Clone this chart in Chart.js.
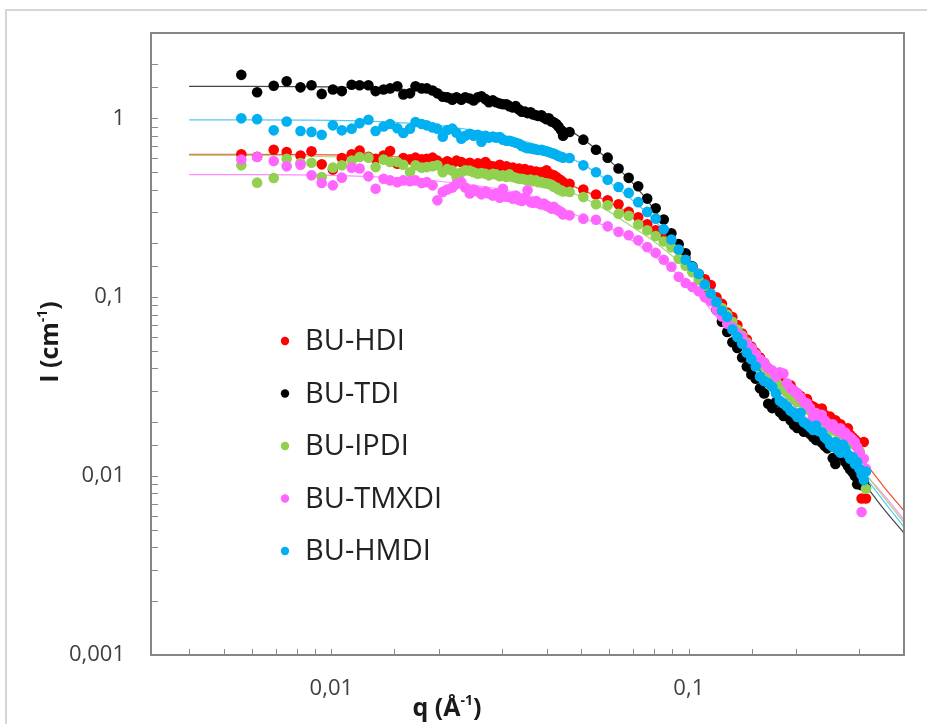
<!DOCTYPE html>
<html><head><meta charset="utf-8">
<script src="https://cdn.jsdelivr.net/npm/chart.js@4/dist/chart.umd.min.js"></script>
<style>
html,body{margin:0;padding:0;background:#fff;overflow:hidden}
#wrap{position:relative;width:927px;height:724px}
#frame{position:absolute;left:5px;top:9px;width:940px;height:740px;border:2px solid #d6d6d6;box-sizing:border-box}
canvas{position:absolute;left:0;top:0}
</style></head><body>
<div id="wrap"><div id="frame"></div><canvas id="c" width="927" height="724"></canvas></div>
<script>
// ---------- DATA ----------
const seriesNames = ["BU-HDI", "BU-TDI", "BU-IPDI", "BU-TMXDI", "BU-HMDI"];
const xTitle = ["q (Å", "-1", ")"];
const yTitle = ["I (cm", "-1", ")"];

const qLow = [0.0056,0.0062,0.0069,0.0075,0.0082,0.0088,0.0094,0.0101,0.0107,0.0114,
 0.0120,0.0127,0.0133,0.0140,0.0146,0.0153,0.0159,0.0166,0.0172,0.0179,
 0.0185,0.0192,0.0198,0.0205,0.0211,0.0218,0.0224,0.0231,0.0237,0.0244,
 0.0250,0.0257,0.0263,0.0270,0.0276,0.0283,0.0289,0.0296,0.0302,0.0309,
 0.0315,0.0322,0.0328,0.0335,0.0341,0.0348,0.0354,0.0361,0.0367,0.0374,
 0.0380,0.0387,0.0393,0.0400,0.0406,0.0413,0.0419,0.0426,0.0432,0.0439,
 0.0445];
const qHigh = [0.0464,0.0507,0.0550,0.0593,0.0636,0.0679,0.0722,0.0765,0.0808,0.0851,
 0.0894,0.0937,0.0980,0.1023,0.1066,0.1109,0.1152,0.1195,0.1238,0.1281,
 0.1324,0.1367,0.1410,0.1453,0.1496,0.1539,0.1582,0.1625,0.1668,0.1711,
 0.1754,0.1797,0.1840,0.1883,0.1926,0.1969,0.2012,0.2055,0.2098,0.2141,
 0.2184,0.2227,0.2270,0.2313,0.2356,0.2399,0.2442,0.2485,0.2528,0.2571,
 0.2614,0.2657,0.2700,0.2743,0.2786,0.2829,0.2872,0.2915,0.2958,0.3001,
 0.3044,0.3087,0.3130];

const hdiLow = [0.63,0.61,0.668,0.648,0.62,0.654,0.553,0.517,0.60,0.63,
 0.66,0.61,0.595,0.62,0.657,0.558,0.60,0.59,0.603,0.59,
 0.595,0.603,0.58,0.558,0.575,0.56,0.58,0.57,0.555,0.565,
 0.546,0.56,0.55,0.57,0.545,0.54,0.534,0.55,0.53,0.54,
 0.524,0.53,0.52,0.524,0.51,0.52,0.505,0.51,0.50,0.505,
 0.495,0.50,0.49,0.512,0.49,0.485,0.48,0.47,0.46,0.45,
 0.44];
const hdiHigh = [0.43,0.40,0.375,0.348,0.331,0.30,0.28,0.256,0.237,0.219,
 0.20,0.185,0.165,0.148,0.135,0.126,0.117,0.10,0.092,0.082,
 0.0775,0.070,0.0626,0.058,0.053,0.049,0.046,0.043,0.040,0.037,
 0.035,0.034,0.033,0.031,0.0322,0.030,0.029,0.028,0.0265,0.027,
 0.025,0.0245,0.0239,0.023,0.0239,0.022,0.021,0.0215,0.020,0.0205,
 0.019,0.0195,0.0185,0.018,0.0185,0.017,0.0165,0.016,0.0155,0.0135,
 0.0075,0.0155,0.0075];

const tdiLow = [1.75,1.40,1.52,1.61,1.49,1.53,1.37,1.45,1.42,1.54,
 1.53,1.53,1.42,1.45,1.47,1.51,1.36,1.38,1.51,1.47,
 1.47,1.43,1.38,1.32,1.31,1.27,1.31,1.27,1.31,1.29,
 1.26,1.31,1.33,1.28,1.23,1.26,1.23,1.21,1.20,1.20,
 1.17,1.15,1.17,1.12,1.09,1.09,1.07,1.08,1.05,1.04,
 1.03,1.04,1.01,0.99,1.00,0.96,0.95,0.93,0.90,0.86,
 0.80];
const tdiHigh = [0.839,0.760,0.668,0.603,0.524,0.465,0.417,0.356,0.314,0.272,
 0.228,0.198,0.176,0.149,0.134,0.114,0.099,0.085,0.073,0.064,
 0.056,0.052,0.046,0.041,0.037,0.035,0.031,0.029,0.0254,0.0240,
 0.0260,0.0228,0.0217,0.0228,0.0205,0.0193,0.0186,0.0195,0.0177,0.0181,
 0.0172,0.0165,0.0159,0.0167,0.0154,0.0148,0.0143,0.0150,0.0126,0.0117,
 0.0131,0.0136,0.0128,0.0120,0.0114,0.0109,0.0105,0.0100,0.0090,0.0098,
 0.0089,0.0093,0.0086];

const ipdiLow = [0.546,0.437,0.464,0.595,0.563,0.565,0.47,0.53,0.546,0.58,
 0.608,0.603,0.534,0.588,0.57,0.57,0.55,0.50,0.546,0.53,
 0.534,0.54,0.546,0.50,0.52,0.51,0.47,0.50,0.512,0.51,
 0.50,0.49,0.495,0.49,0.48,0.49,0.486,0.475,0.48,0.47,
 0.486,0.47,0.465,0.46,0.46,0.455,0.45,0.455,0.445,0.45,
 0.44,0.44,0.435,0.432,0.43,0.425,0.415,0.41,0.40,0.396,
 0.39];
const ipdiHigh = [0.388,0.363,0.331,0.327,0.293,0.285,0.255,0.237,0.22,0.205,
 0.19,0.164,0.15,0.138,0.125,0.115,0.10,0.094,0.087,0.080,
 0.073,0.066,0.061,0.056,0.052,0.048,0.044,0.041,0.038,0.036,
 0.034,0.032,0.0305,0.0295,0.028,0.0275,0.026,0.0265,0.025,0.024,
 0.0232,0.0225,0.022,0.021,0.0205,0.020,0.0195,0.0185,0.018,0.0185,
 0.0175,0.017,0.0165,0.0172,0.016,0.0155,0.0158,0.015,0.0145,0.0138,
 0.0125,0.0105,0.0085];

const tmxdiLow = [0.588,0.608,0.577,0.539,0.551,0.48,0.435,0.422,0.466,0.53,
 0.524,0.474,0.404,0.46,0.45,0.44,0.45,0.445,0.45,0.435,
 0.44,0.422,0.348,0.388,0.40,0.41,0.43,0.44,0.41,0.38,
 0.40,0.39,0.376,0.39,0.38,0.37,0.38,0.36,0.404,0.365,
 0.363,0.355,0.37,0.35,0.345,0.36,0.396,0.34,0.337,0.345,
 0.335,0.33,0.334,0.325,0.32,0.313,0.32,0.31,0.305,0.30,
 0.29];
const tmxdiHigh = [0.287,0.275,0.271,0.249,0.232,0.222,0.208,0.191,0.177,0.162,
 0.148,0.13,0.12,0.114,0.108,0.10,0.095,0.085,0.078,0.071,
 0.068,0.063,0.060,0.055,0.052,0.048,0.045,0.043,0.040,0.039,
 0.036,0.038,0.0375,0.033,0.031,0.030,0.029,0.0275,0.026,0.0255,
 0.024,0.0215,0.0225,0.021,0.022,0.0205,0.0198,0.019,0.0195,0.0184,
 0.018,0.0185,0.0172,0.0175,0.0168,0.0165,0.016,0.0155,0.0145,0.0135,
 0.0063,0.0125,0.0110];

const hmdiLow = [1.00,0.99,0.857,0.96,0.85,0.84,0.81,0.914,0.857,0.876,
 0.94,0.983,0.85,0.90,0.93,0.88,0.828,0.876,0.953,0.93,
 0.914,0.89,0.876,0.79,0.86,0.876,0.83,0.77,0.80,0.82,
 0.80,0.81,0.74,0.80,0.78,0.79,0.78,0.786,0.76,0.75,
 0.75,0.74,0.73,0.72,0.70,0.69,0.68,0.68,0.675,0.67,
 0.665,0.667,0.66,0.655,0.648,0.64,0.635,0.625,0.615,0.61,
 0.603];
const hmdiHigh = [0.60,0.546,0.50,0.454,0.413,0.383,0.34,0.30,0.275,0.24,
 0.21,0.185,0.162,0.148,0.135,0.118,0.105,0.094,0.084,0.0775,
 0.066,0.060,0.055,0.049,0.045,0.041,0.036,0.034,0.033,0.0316,
 0.029,0.0264,0.0255,0.0245,0.0232,0.0225,0.0214,0.0226,0.0200,0.0195,
 0.0188,0.0181,0.0192,0.0178,0.0176,0.0165,0.0160,0.0150,0.0146,0.0155,
 0.0140,0.0135,0.0150,0.0142,0.0132,0.0125,0.0128,0.0117,0.0120,0.0110,
 0.0102,0.0095,0.0106];

// fitted model curves
const fitQ = [0.004,0.006,0.01,0.015,0.02,0.03,0.04,0.05,0.06,0.07,0.08,0.1,0.12,0.15,0.2,0.25,0.3,0.35,0.4];
const fitHDI   = [0.63,0.63,0.625,0.61,0.59,0.54,0.475,0.40,0.34,0.285,0.235,0.155,0.098,0.054,0.028,0.0185,0.013,0.0088,0.0064];
const fitTDI   = [1.51,1.51,1.50,1.46,1.40,1.22,1.00,0.78,0.58,0.43,0.31,0.16,0.085,0.045,0.022,0.0142,0.0098,0.0066,0.0048];
const fitIPDI  = [0.62,0.62,0.61,0.59,0.56,0.50,0.435,0.365,0.30,0.245,0.205,0.14,0.088,0.05,0.026,0.0165,0.0113,0.0077,0.0055];
const fitTMXDI = [0.485,0.485,0.48,0.465,0.445,0.40,0.345,0.28,0.245,0.205,0.17,0.118,0.077,0.043,0.024,0.016,0.0112,0.0079,0.0057];
const fitHMDI  = [0.98,0.98,0.975,0.95,0.91,0.80,0.68,0.56,0.44,0.345,0.27,0.165,0.095,0.05,0.024,0.0155,0.0108,0.0073,0.0052];

const X_MIN = 0.00313, X_MAX = 0.4, Y_MIN = 0.001, Y_MAX = 3;

// ---------- STYLE ----------
const FAM = '"Open Sans", "Liberation Sans", sans-serif';
const dotColors  = ["#ff0000", "#000000", "#92d050", "#ff66ff", "#00b0f0"];
const lineColors = ["#f0502d", "#444444", "#a8d878", "#ff8cff", "#55c8f2"];
const dotOrder   = [5, 4, 3, 2, 1];

const qAll = qLow.concat(qHigh);
const pts = [hdiLow.concat(hdiHigh), tdiLow.concat(tdiHigh), ipdiLow.concat(ipdiHigh),
             tmxdiLow.concat(tmxdiHigh), hmdiLow.concat(hmdiHigh)];
const fits = [fitHDI, fitTDI, fitIPDI, fitTMXDI, fitHMDI];

const datasets = [];
fits.forEach((f, i) => datasets.push({
  type: 'line', label: seriesNames[i] + ' fit',
  data: fitQ.map((q, k) => ({x: q, y: f[k]})),
  borderColor: lineColors[i], borderWidth: 1.2, pointRadius: 0, fill: false,
  cubicInterpolationMode: 'monotone', order: 10
}));
pts.forEach((p, i) => datasets.push({
  type: 'scatter', label: seriesNames[i],
  data: qAll.map((q, k) => ({x: q, y: p[k]})),
  backgroundColor: dotColors[i], borderColor: dotColors[i], borderWidth: 0,
  pointRadius: 5.3, pointHoverRadius: 5.3, order: dotOrder[i]
}));

const isPow10 = v => Math.abs(Math.log10(v) - Math.round(Math.log10(v))) < 1e-6;
const fmt = v => String(+(+v).toPrecision(6)).replace('.', ',');

function drawSup(ctx, parts, cx, cy, size) {
  const f = `bold ${size}px ${FAM}`, fs = `bold ${Math.round(size * 0.58)}px ${FAM}`;
  ctx.font = f; const w1 = ctx.measureText(parts[0]).width, w3 = ctx.measureText(parts[2]).width;
  ctx.font = fs; const w2 = ctx.measureText(parts[1]).width;
  let x = cx - (w1 + w2 + w3) / 2;
  ctx.textBaseline = 'middle'; ctx.textAlign = 'left';
  ctx.font = f; ctx.fillText(parts[0], x, cy); x += w1;
  ctx.font = fs; ctx.fillText(parts[1], x, cy - size * 0.3); x += w2;
  ctx.font = f; ctx.fillText(parts[2], x, cy);
}

const decor = {
  id: 'decor',
  beforeDatasetsDraw(chart) {
    const {ctx, chartArea: a, scales: {x, y}} = chart;
    ctx.save();
    ctx.strokeStyle = '#8a8a8a'; ctx.lineWidth = 1;
    y.ticks.forEach(t => {
      const py = Math.round(y.getPixelForValue(t.value)) + 0.5;
      if (py <= a.top + 2 || py >= a.bottom - 2) return;
      ctx.beginPath(); ctx.moveTo(a.left, py); ctx.lineTo(a.left + 7, py); ctx.stroke();
    });
    x.ticks.forEach(t => {
      const px = Math.round(x.getPixelForValue(t.value)) + 0.5;
      if (px <= a.left + 2 || px >= a.right - 2) return;
      ctx.beginPath(); ctx.moveTo(px, a.bottom); ctx.lineTo(px, a.bottom - 6); ctx.stroke();
    });
    ctx.restore();
  },
  afterDraw(chart) {
    const {ctx, chartArea: a} = chart;
    ctx.save();
    ctx.strokeStyle = '#868686'; ctx.lineWidth = 2;
    ctx.strokeRect(a.left, a.top, a.right - a.left, a.bottom - a.top);
    // legend (inside plot)
    seriesNames.forEach((n, i) => {
      const cy = 341 + i * 52.5;
      ctx.fillStyle = dotColors[i];
      ctx.beginPath(); ctx.arc(285, cy, 4.2, 0, Math.PI * 2); ctx.fill();
      ctx.fillStyle = '#222222';
      ctx.font = `29px ${FAM}`; ctx.textAlign = 'left'; ctx.textBaseline = 'middle';
      ctx.fillText(n, 305, cy + 1);
    });
    // axis titles
    ctx.fillStyle = '#1a1a1a';
    drawSup(ctx, xTitle, 447, 709, 25);
    ctx.translate(51, 342); ctx.rotate(-Math.PI / 2);
    drawSup(ctx, yTitle, 0, 0, 25);
    ctx.restore();
  }
};

new Chart(document.getElementById('c'), {
  data: {datasets},
  options: {
    responsive: false, animation: false, devicePixelRatio: 1,
    layout: {padding: {top: 33, right: 23, left: 0, bottom: 0}},
    plugins: {legend: {display: false}, tooltip: {enabled: false}},
    scales: {
      x: {
        type: 'logarithmic', min: X_MIN, max: X_MAX,
        grid: {display: false, drawTicks: false}, border: {display: false},
        ticks: {autoSkip: false, maxRotation: 0, padding: 21, color: '#404040',
          font: {family: FAM, size: 22}, callback: v => isPow10(v) ? fmt(v) : ''},
        afterFit: s => { s.height = 69; s.paddingLeft = 0; s.paddingRight = 0; }
      },
      y: {
        type: 'logarithmic', min: Y_MIN, max: Y_MAX,
        grid: {display: false, drawTicks: false}, border: {display: false},
        ticks: {autoSkip: false, padding: 26, color: '#404040',
          font: {family: FAM, size: 22}, callback: v => isPow10(v) ? fmt(v) : ''},
        afterFit: s => { s.width = 151; s.paddingTop = 0; s.paddingBottom = 0; }
      }
    }
  },
  plugins: [decor]
});
</script>
</body></html>
